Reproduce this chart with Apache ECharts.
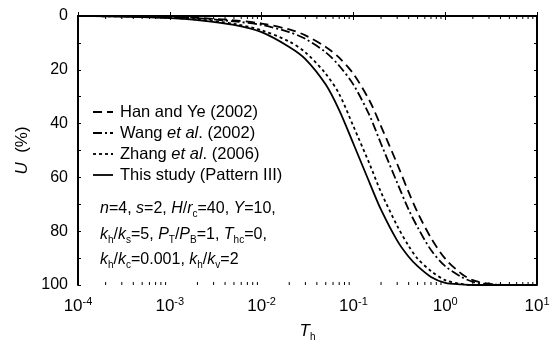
<!DOCTYPE html>
<html><head><meta charset="utf-8">
<script src="https://cdn.jsdelivr.net/npm/echarts@6/dist/echarts.min.js"></script>
<style>html,body{margin:0;padding:0;background:#fff}#c{width:553px;height:347px}</style>
</head><body><div id="c"></div>
<script>
// ---- data ----
const timeFactor = [1e-4, 2e-4, 5e-4, 1e-3, 2e-3, 5e-3, 0.01, 0.02, 0.03, 0.05, 0.07, 0.1, 0.15, 0.2, 0.3, 0.4, 0.5, 0.7, 1, 1.5, 2, 3, 5, 10];
const hanYe2002   = [0, 0.04, 0.15, 0.3, 0.7, 1.6, 2.8, 5, 7.2, 11.5, 15.5, 21.5, 31.5, 41, 55, 65.5, 73, 82.5, 90.2, 95.8, 98.2, 99.6, 100, 100];
const wang2002    = [0, 0.05, 0.2, 0.4, 0.8, 2, 3.3, 6, 8.5, 13.5, 18.5, 25.5, 37, 47.5, 62, 72, 78.5, 87, 93, 97, 98.8, 99.7, 100, 100];
const zhang2006   = [0, 0.1, 0.3, 0.7, 1.3, 2.9, 5.3, 9.5, 13.5, 21.5, 29, 41, 55, 65.5, 78, 85.5, 90.2, 94.8, 98.2, 99.6, 100, 100, 100, 100];
const thisStudy   = [0, 0.1, 0.4, 0.8, 1.5, 3.3, 6, 11.5, 16, 25.5, 35, 47.5, 62, 72, 83.5, 89.5, 93, 97, 99.2, 99.8, 100, 100, 100, 100];
const seriesNames = ['Han and Ye (2002)', 'Wang et al. (2002)', 'Zhang et al. (2006)', 'This study (Pattern III)'];
const xTickExponents = ['-4', '-3', '-2', '-1', '0', '1'];
const yTickLabels = [0, 20, 40, 60, 80, 100];
const decades = [1e-4, 1e-3, 1e-2, 1e-1, 1];
const minorMultipliers = [2, 3, 4, 5, 6, 7, 8, 9];

const FONT = 'Liberation Sans, Arial, sans-serif';
const minorTickValues = [];
decades.forEach(d => minorMultipliers.forEach(m => minorTickValues.push([d * m, 0])));
const toPairs = arr => timeFactor.map((t, i) => [t, arr[i]]);

const dashes = {
  han: [9, 5],
  wang: [9, 3, 2, 3],
  zhang: [3, 3],
  solid: 'solid'
};

const chart = echarts.init(document.getElementById('c'), null, {renderer: 'canvas'});

function lineSeries(name, data, dash) {
  return {
    name, type: 'line', data: toPairs(data), showSymbol: false, symbol: 'none',
    smooth: 0.3, xAxisIndex: 0, yAxisIndex: 0,
    lineStyle: {color: '#000', width: 1.8, type: dash}, silent: true, z: 3
  };
}

const xAxisBase = {
  type: 'log', logBase: 10, min: 1e-4, max: 10, splitNumber: 5,
  axisLine: {show: true, lineStyle: {color: '#000', width: 2}},
  axisTick: {show: true, inside: true, length: 4, lineStyle: {color: '#000', width: 1}},
  splitLine: {show: false}, minorTick: {show: false}
};
const yAxisBase = {
  type: 'value', inverse: true, min: 0, max: 100, interval: 20,
  axisLine: {show: true, lineStyle: {color: '#000', width: 2}},
  axisTick: {show: true, inside: true, length: 3, lineStyle: {color: '#000', width: 1}},
  minorTick: {show: true, splitNumber: 2, length: 3, lineStyle: {color: '#000', width: 1}},
  splitLine: {show: false}
};

const legendY = [112, 133, 154, 175];
const legendDash = [dashes.han, dashes.wang, dashes.zhang, null];
const legendText = ['Han and Ye (2002)', 'Wang {i|et al}. (2002)', 'Zhang {i|et al}. (2006)', 'This study (Pattern III)'];
const richBase = {
  i: {fontStyle: 'italic', fontFamily: FONT, fontSize: 16.5, fill: '#000'},
  sub: {fontFamily: FONT, fontSize: 10, padding: [11, 0, 0, 0]}
};
const graphics = [];
legendY.forEach((y, k) => {
  graphics.push({type: 'line', shape: {x1: 93, y1: y, x2: 113, y2: y},
    style: {stroke: '#000', lineWidth: 1.8, lineDash: legendDash[k]}});
  graphics.push({type: 'text', x: 120, y: y,
    style: {text: legendText[k], fontFamily: FONT, fontSize: 16.5, fill: '#000', verticalAlign: 'middle', rich: richBase}});
});
const paramLines = [
  '{i|n}=4, {i|s}=2, {i|H}/{i|r}{sub|c}=40, {i|Υ}=10,',
  '{i|k}{sub|h}/{i|k}{sub|s}=5, {i|P}{sub|T}/{i|P}{sub|B}=1, {i|T}{sub|hc}=0,',
  '{i|k}{sub|h}/{i|k}{sub|c}=0.001, {i|k}{sub|h}/{i|k}{sub|v}=2'
];
const paramRich = {
  i: {fontStyle: 'italic', fontFamily: FONT, fontSize: 16, fill: '#000'},
  sub: {fontFamily: FONT, fontSize: 10, padding: [11, 0, 0, 0]}
};
const paramY = [209, 235, 260];
paramLines.forEach((t, k) => {
  graphics.push({type: 'text', x: 100, y: paramY[k],
    style: {text: t, fontFamily: FONT, fontSize: 16, fill: '#000', verticalAlign: 'middle', rich: paramRich}});
});

chart.setOption({
  animation: false,
  backgroundColor: '#fff',
  grid: {left: 78, right: 16, top: 16, bottom: 58, containLabel: false},
  xAxis: [
    Object.assign({}, xAxisBase, {
      position: 'bottom',
      name: '{i|T}{sub|h}', nameLocation: 'middle', nameGap: 36,
      nameTextStyle: {fontFamily: FONT, fontSize: 17, color: '#000',
        rich: {i: {fontStyle: 'italic', fontFamily: FONT, fontSize: 17}, sub: {fontFamily: FONT, fontSize: 10, padding: [11, 0, 0, 0]}}},
      axisLabel: {
        show: true, margin: 11, fontFamily: FONT, fontSize: 17, color: '#000',
        formatter: v => '10{sup|' + xTickExponents[Math.round(Math.log10(v)) + 4] + '}',
        rich: {sup: {fontFamily: FONT, fontSize: 11, padding: [0, 0, 10, 0]}}
      }
    }),
    Object.assign({}, xAxisBase, {position: 'top', axisLabel: {show: false}})
  ],
  yAxis: [
    Object.assign({}, yAxisBase, {
      position: 'left',
      name: '{i|U}  (%)', nameLocation: 'middle', nameGap: 46, nameRotate: 90,
      nameTextStyle: {fontFamily: FONT, fontSize: 17, color: '#000',
        rich: {i: {fontStyle: 'italic', fontFamily: FONT, fontSize: 17}}},
      axisLabel: {show: true, margin: 10, fontFamily: FONT, fontSize: 16, color: '#000',
        formatter: v => yTickLabels.includes(v) ? String(v) : ''}
    }),
    Object.assign({}, yAxisBase, {position: 'right', axisLabel: {show: false}})
  ],
  series: [
    lineSeries(seriesNames[0], hanYe2002, dashes.han),
    lineSeries(seriesNames[1], wang2002, dashes.wang),
    lineSeries(seriesNames[2], zhang2006, dashes.zhang),
    lineSeries(seriesNames[3], thisStudy, dashes.solid),
    {
      type: 'custom', xAxisIndex: 0, yAxisIndex: 0, silent: true, clip: false, z: 5,
      data: minorTickValues,
      renderItem: (params, api) => {
        const b = api.coord([api.value(0), 100]);
        const t = api.coord([api.value(0), 0]);
        return {type: 'group', children: [
          {type: 'line', shape: {x1: b[0], y1: b[1], x2: b[0], y2: b[1] - 3}, style: {stroke: '#000', lineWidth: 1}},
          {type: 'line', shape: {x1: t[0], y1: t[1], x2: t[0], y2: t[1] + 3}, style: {stroke: '#000', lineWidth: 1}}
        ]};
      }
    }
  ],
  graphic: graphics
});
</script></body></html>
